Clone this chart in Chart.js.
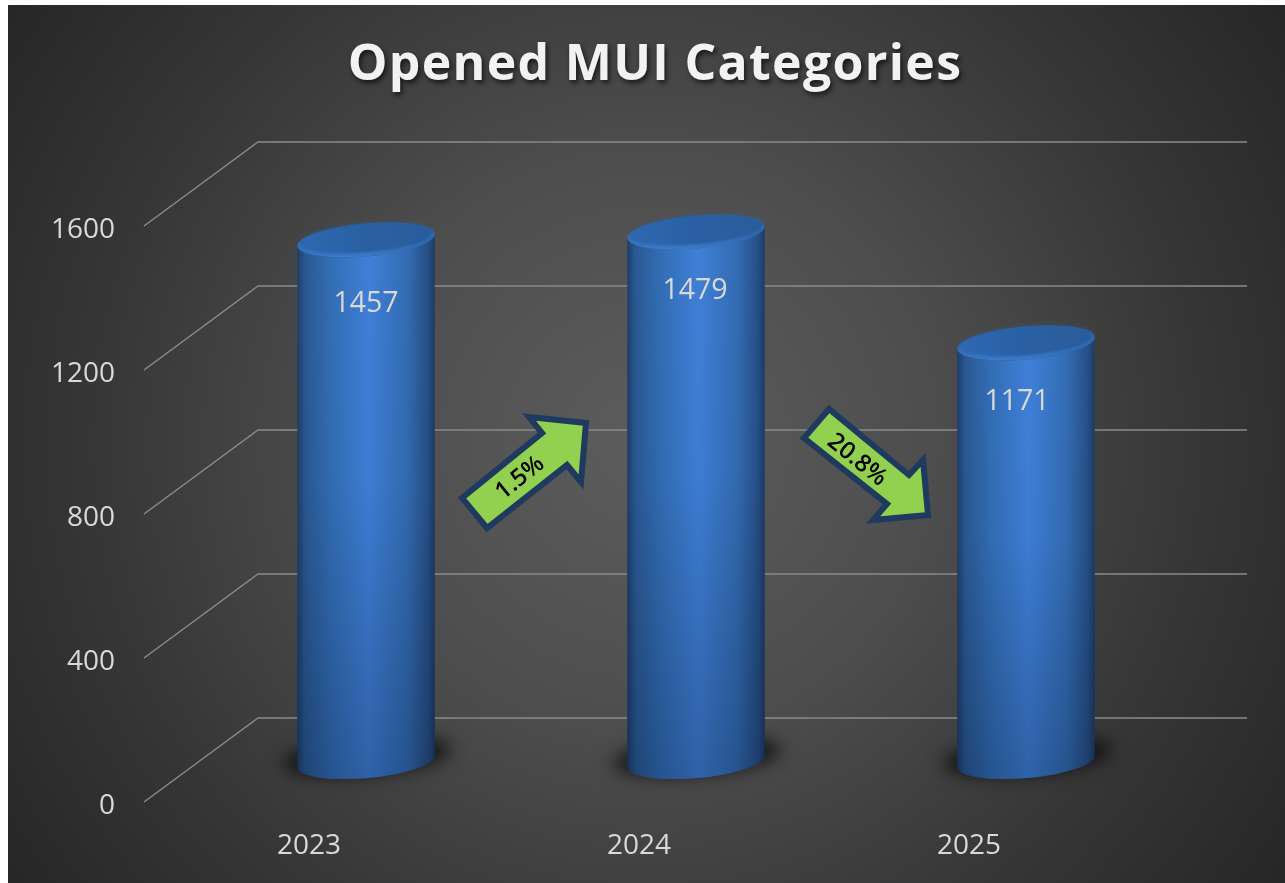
<!DOCTYPE html>
<html>
<head>
<meta charset="utf-8">
<style>html,body{margin:0;padding:0;background:#fff}canvas{display:block}</style>
<script src="https://cdn.jsdelivr.net/npm/chart.js@4/dist/chart.umd.min.js"></script>
</head>
<body>
<canvas id="c" width="1285" height="883"></canvas>
<script>
const categories = ['2023', '2024', '2025'];
const openedValues = [1457, 1479, 1171];
const yTickStep = 400;
const yMax = 1600;
const changeLabels = ['1.5%', '20.8%'];

const FRONT_DY = -4;
const DEPTH_X = 114, DEPTH_Y = 84;
const BAR_DX = 57, BAR_DY = -43.5;
const TOP_DY = 2;
const TILT = -5 * Math.PI / 180, RY = 16.5;
const LABEL_NUDGE = [[0, 3], [-1, -2], [-9, -2]];

function arrow(ctx, pts, label, cx, cy, rot) {
  ctx.save();
  ctx.beginPath();
  pts.forEach((p, i) => i ? ctx.lineTo(p[0], p[1]) : ctx.moveTo(p[0], p[1]));
  ctx.closePath();
  ctx.fillStyle = '#92d050';
  ctx.fill();
  ctx.lineWidth = 6;
  ctx.lineJoin = 'miter';
  ctx.strokeStyle = '#1f3a5f';
  ctx.stroke();
  ctx.translate(cx, cy);
  ctx.rotate(rot);
  ctx.font = '600 24px "Open Sans"';
  ctx.fillStyle = '#000';
  ctx.textAlign = 'center';
  ctx.textBaseline = 'middle';
  ctx.fillText(label, 0, 0);
  ctx.restore();
}

function cylinder(ctx, x, topIn, baseIn, rx) {
  const base = baseIn - 1, top = topIn + TOP_DY;
  // soft ground shadow: the caster sits off-canvas, only its blur lands here
  ctx.save();
  ctx.shadowColor = 'rgba(0,0,0,0.75)';
  ctx.shadowBlur = 18;
  ctx.shadowOffsetX = 3000;
  ctx.fillStyle = '#000';
  ctx.beginPath();
  ctx.ellipse(x + 1 - 3000, base - 5, rx + 15, RY + 1, TILT, 0, Math.PI * 2);
  ctx.fill();
  ctx.restore();

  const dx = rx * Math.cos(TILT), dy = rx * Math.sin(TILT);
  // body
  ctx.save();
  ctx.beginPath();
  ctx.moveTo(x - dx, top - dy);
  ctx.lineTo(x - dx, base - dy);
  ctx.ellipse(x, base, rx, RY, TILT, Math.PI, 0, true);
  ctx.lineTo(x + dx, top + dy);
  ctx.ellipse(x, top, rx, RY, TILT, 0, Math.PI, false);
  ctx.closePath();
  const g = ctx.createLinearGradient(x - rx, 0, x + rx, 0);
  g.addColorStop(0, '#1d3c68');
  g.addColorStop(0.06, '#2a5993');
  g.addColorStop(0.25, '#336eb6');
  g.addColorStop(0.52, '#3f80d8');
  g.addColorStop(0.8, '#336cb3');
  g.addColorStop(0.95, '#264f85');
  g.addColorStop(1, '#1c3a64');
  ctx.fillStyle = g;
  ctx.fill();
  ctx.clip();
  const v = ctx.createLinearGradient(0, top, 0, base + RY);
  v.addColorStop(0, 'rgba(0,10,30,0)');
  v.addColorStop(0.45, 'rgba(0,10,30,0.03)');
  v.addColorStop(1, 'rgba(0,10,30,0.26)');
  ctx.fillStyle = v;
  ctx.fillRect(x - rx - 2, top - RY - 6, rx * 2 + 4, base - top + RY * 2 + 12);
  ctx.restore();

  // top cap: darker face, lit bevel along the lower front only
  ctx.save();
  ctx.beginPath();
  ctx.ellipse(x, top, rx, RY, TILT, 0, Math.PI * 2);
  const rim = ctx.createLinearGradient(0, top - RY, 0, top + RY);
  rim.addColorStop(0, '#2b63a8');
  rim.addColorStop(0.6, '#2e69b3');
  rim.addColorStop(1, '#3a7bcd');
  ctx.fillStyle = rim;
  ctx.fill();
  ctx.beginPath();
  ctx.ellipse(x + 1, top - 2, rx - 4, RY - 3, TILT, 0, Math.PI * 2);
  const cap = ctx.createLinearGradient(x - rx, 0, x + rx, 0);
  cap.addColorStop(0, '#2d69b2');
  cap.addColorStop(0.5, '#2a60a3');
  cap.addColorStop(1, '#295c9b');
  ctx.fillStyle = cap;
  ctx.shadowColor = 'rgba(42,95,159,0.9)';
  ctx.shadowBlur = 5;
  ctx.fill();
  ctx.restore();
}

const scene = {
  id: 'scene',
  beforeDraw(chart) {
    const ctx = chart.ctx;
    const g = ctx.createRadialGradient(646, 442, 30, 646, 442, 780);
    g.addColorStop(0, '#5b5b5b');
    g.addColorStop(0.35, '#4d4d4d');
    g.addColorStop(0.7, '#363636');
    g.addColorStop(1, '#262626');
    ctx.save();
    ctx.fillStyle = g;
    ctx.fillRect(8, 5, chart.width - 8, chart.height - 5);
    ctx.restore();
  },
  afterLayout(chart) {
    const t = chart.titleBlock;
    t.left = 25; t.right = 1285;
    if (!t._wrapped) {
      t._wrapped = true;
      const d = t.draw;
      t.draw = function () {
        const c = chart.ctx;
        c.save();
        c.letterSpacing = '1.3px';
        c.shadowColor = 'rgba(0,0,0,0.65)';
        c.shadowBlur = 5;
        c.shadowOffsetX = 2;
        c.shadowOffsetY = 3;
        d.apply(this, arguments);
        c.restore();
      };
    }
  },
  beforeDatasetsDraw(chart) {
    const ctx = chart.ctx, ys = chart.scales.y, a = chart.chartArea;
    ctx.save();
    ctx.strokeStyle = '#8a8a8a';
    ctx.lineWidth = 1.5;
    ys.ticks.forEach(t => {
      const y = ys.getPixelForValue(t.value) + FRONT_DY;
      ctx.beginPath();
      ctx.moveTo(a.left, y);
      ctx.lineTo(a.left + DEPTH_X, y - DEPTH_Y);
      ctx.lineTo(a.right + DEPTH_X - 1, y - DEPTH_Y);
      ctx.stroke();
    });
    ctx.restore();
  },
  beforeDatasetDraw(chart, args) {
    const ctx = chart.ctx;
    args.meta.data.forEach(el => {
      cylinder(ctx, el.x + BAR_DX, el.y + BAR_DY, el.base + BAR_DY, el.width / 2);
    });
    return false;
  },
  afterDatasetsDraw(chart) {
    const ctx = chart.ctx;
    const meta = chart.getDatasetMeta(0);
    ctx.save();
    ctx.font = '28.5px "Open Sans"';
    ctx.fillStyle = '#d9d9d9';
    ctx.textAlign = 'center';
    ctx.textBaseline = 'middle';
    meta.data.forEach((el, i) => {
      ctx.fillText(String(openedValues[i]),
        el.x + BAR_DX + LABEL_NUDGE[i][0],
        el.y + BAR_DY + 63 + LABEL_NUDGE[i][1]);
    });
    ctx.restore();
    arrow(ctx, [[586,423],[529,417],[542,433],[462,498],[487,528],[567,465],[581,482]],
      changeLabels[0], 520, 478, -39 * Math.PI / 180);
    arrow(ctx, [[829,409],[804,438],[887,504],[873,520],[928,515],[923,460],[909,475]],
      changeLabels[1], 857, 460, 39 * Math.PI / 180);
  }
};

new Chart(document.getElementById('c'), {
  type: 'bar',
  data: {
    labels: categories,
    datasets: [{
      label: 'Opened MUI Categories',
      data: openedValues,
      backgroundColor: '#2f6db5',
      categoryPercentage: 1,
      barPercentage: 138 / 330
    }]
  },
  plugins: [scene],
  options: {
    responsive: false,
    animation: false,
    layout: { padding: { left: 0, right: 151, top: 0, bottom: 0 } },
    plugins: {
      legend: { display: false },
      tooltip: { enabled: false },
      title: {
        display: true,
        text: 'Opened MUI Categories',
        color: '#f2f2f2',
        font: { family: '"Open Sans"', size: 50, weight: '700', lineHeight: 1.2 },
        padding: { top: 36, bottom: 134 }
      }
    },
    scales: {
      x: {
        grid: { display: false, drawTicks: false },
        border: { display: false },
        ticks: { color: '#d9d9d9', font: { family: '"Open Sans"', size: 28 }, padding: 23, maxRotation: 0 },
        afterFit(s) { s.height = 77; }
      },
      y: {
        min: 0,
        max: yMax,
        grid: { display: false, drawTicks: false },
        border: { display: false },
        ticks: {
          stepSize: yTickStep,
          color: '#d9d9d9',
          font: { family: '"Open Sans"', size: 28 },
          padding: 29,
          callback: v => String(v)
        },
        afterFit(s) { s.width = 144; }
      }
    }
  }
});
</script>
</body>
</html>
